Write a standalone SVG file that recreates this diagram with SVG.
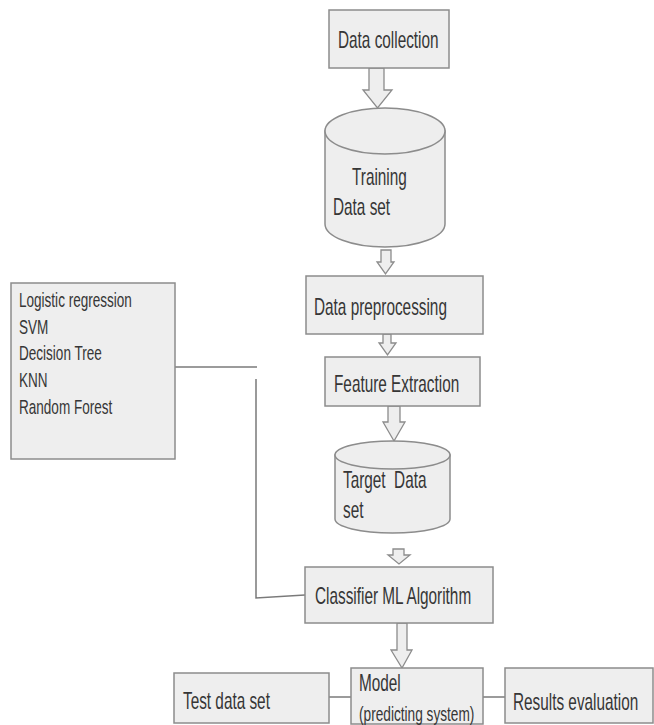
<svg xmlns="http://www.w3.org/2000/svg" width="654" height="725" viewBox="0 0 654 725">
<style>
.box{fill:#eeeeee;stroke:#8c8c8c;stroke-width:1.5}
.arr{fill:#eeeeee;stroke:#8c8c8c;stroke-width:1.3;stroke-linejoin:miter}
.t{font-family:"Liberation Sans",Arial,sans-serif;font-size:23px;fill:#363636}
.s{font-size:20.3px}
.ln{fill:none;stroke:#7a7a7a;stroke-width:1.5}
</style>
<rect width="654" height="725" fill="#ffffff"/>
<g id="connectors">
<path class="arr" d="M369,68 H384 V90 H392 L377.5,108 L363,90 H369 Z"/>
<path class="arr" d="M381,250 H391 V262 H394 L385.5,274 L377,262 H381 Z"/>
<path class="arr" d="M383,334 H391 V343 H396 L387.5,355 L379,343 H383 Z"/>
<path class="arr" d="M388,406 H400 V422 H405 L394,441 L383,422 H388 Z"/>
<path class="arr" d="M393,549 H404 V555 H410 L399,564 L388,555 H393 Z"/>
<path class="arr" d="M397,623 H407 V650 H412 L402,668 L391,650 H397 Z"/>
<line class="ln" x1="175" y1="367" x2="257" y2="367"/>
<polyline class="ln" points="256,379 256,598 305,595"/>
<line class="ln" x1="329" y1="697" x2="351" y2="697"/>
<line class="ln" x1="483" y1="697" x2="505" y2="697"/>
</g>
<g id="data-collection">
<rect class="box" x="329" y="10" width="120" height="58"/>
<text class="t" transform="translate(338,48) scale(0.667,1)">Data collection</text>
</g>
<g id="training-data-set">
<path class="box" d="M325,131 V224 A60,23 0 0 0 445,224 V131 Z"/>
<ellipse class="box" cx="385" cy="131" rx="60" ry="23"/>
<text class="t" transform="translate(352,185) scale(0.667,1)">Training</text>
<text class="t" transform="translate(333,215) scale(0.667,1)">Data set</text>
</g>
<g id="data-preprocessing">
<rect class="box" x="306" y="276" width="177" height="58"/>
<text class="t" transform="translate(314,315) scale(0.667,1)">Data preprocessing</text>
</g>
<g id="feature-extraction">
<rect class="box" x="325" y="357" width="155" height="49"/>
<text class="t" transform="translate(334,392) scale(0.667,1)">Feature Extraction</text>
</g>
<g id="target-data-set">
<path class="box" d="M335,455 V519 A57.5,14 0 0 0 450,519 V455 Z"/>
<ellipse class="box" cx="392.5" cy="455" rx="57.5" ry="14"/>
<text class="t" transform="translate(343,488) scale(0.667,1)" xml:space="preserve">Target  Data</text>
<text class="t" transform="translate(343,518) scale(0.667,1)">set</text>
</g>
<g id="algorithms">
<rect class="box" x="11" y="283" width="164" height="176"/>
<text class="t s" transform="translate(19,307) scale(0.667,1)">Logistic regression</text>
<text class="t s" transform="translate(19,334) scale(0.667,1)">SVM</text>
<text class="t s" transform="translate(19,360) scale(0.667,1)">Decision Tree</text>
<text class="t s" transform="translate(19,387) scale(0.667,1)">KNN</text>
<text class="t s" transform="translate(19,414) scale(0.667,1)">Random Forest</text>
</g>
<g id="classifier">
<rect class="box" x="305" y="567" width="188" height="56"/>
<text class="t" transform="translate(315,604) scale(0.667,1)">Classifier ML Algorithm</text>
</g>
<g id="model">
<rect class="box" x="351" y="668" width="132" height="56"/>
<text class="t" transform="translate(359,691) scale(0.667,1)">Model</text>
<text class="t" style="font-size:20.5px" transform="translate(359,721) scale(0.667,1)">(predicting system)</text>
</g>
<g id="test-data-set">
<rect class="box" x="174" y="673" width="155" height="50"/>
<text class="t" transform="translate(183,709) scale(0.667,1)">Test data set</text>
</g>
<g id="results-evaluation">
<rect class="box" x="505" y="668" width="148" height="55"/>
<text class="t" transform="translate(513,710) scale(0.667,1)">Results evaluation</text>
</g>
</svg>
